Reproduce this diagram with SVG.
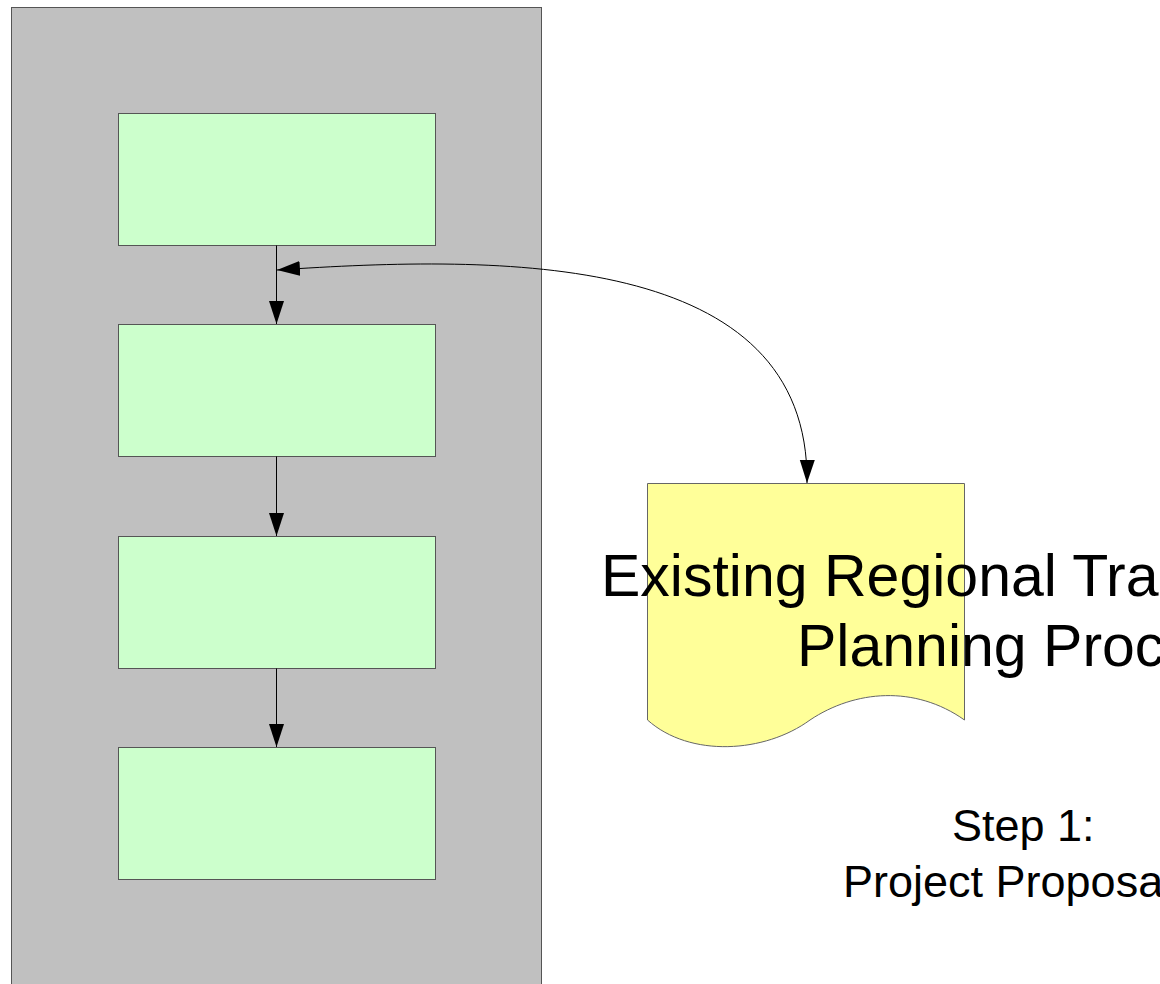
<svg xmlns="http://www.w3.org/2000/svg" width="1160" height="984" viewBox="0 0 1160 984">
  <defs>
    <style>
      .panel { fill: #c0c0c0; stroke: #555555; stroke-width: 1; }
      .step { fill: #ccffcc; stroke: #555555; stroke-width: 1; }
      .doc { fill: #ffff99; stroke: #666666; stroke-width: 1; }
      .link { fill: none; stroke: #000000; stroke-width: 1; }
      .label { font-family: "Liberation Sans", Arial, sans-serif; fill: #000000; }
    </style>
    <marker id="head" markerUnits="userSpaceOnUse" markerWidth="24" markerHeight="16" refX="23" refY="7.5" orient="auto-start-reverse" viewBox="0 0 24 16">
      <path d="M0,0 L23,7.5 L0,15 Z" fill="#000000"/>
    </marker>
  </defs>

  <!-- swimlane panel -->
  <g id="lane">
    <rect class="panel" x="11.5" y="7.5" width="530" height="1000"/>
  </g>

  <!-- process steps -->
  <g id="step-1">
    <rect class="step" x="118.5" y="113.5" width="317" height="132"/>
  </g>
  <g id="step-2">
    <rect class="step" x="118.5" y="324.5" width="317" height="132"/>
  </g>
  <g id="step-3">
    <rect class="step" x="118.5" y="536.5" width="317" height="132"/>
  </g>
  <g id="step-4">
    <rect class="step" x="118.5" y="747.5" width="317" height="132"/>
  </g>

  <!-- document node -->
  <g id="planning-doc">
    <path class="doc" d="M647.5,483.5 H964.5 V720 C915,685 855,690 810,720 C765,753 690,758 647.5,720 Z"/>
    <text class="label" font-size="59" x="601" y="596">Existing Regional Transportation</text>
    <text class="label" font-size="59" x="797" y="666">Planning Process</text>
  </g>

  <!-- caption -->
  <g id="caption">
    <text class="label" font-size="45" x="952" y="841">Step 1:</text>
    <text class="label" font-size="45" x="843" y="897">Project Proposal</text>
  </g>

  <!-- connectors -->
  <g id="connectors">
    <path class="link" d="M276.5,245.5 V324" marker-end="url(#head)"/>
    <path class="link" d="M276.5,456.5 V536" marker-end="url(#head)"/>
    <path class="link" d="M276.5,668.5 V747" marker-end="url(#head)"/>
    <path class="link" d="M277,270 C500,255 810,250 807,483" marker-start="url(#head)" marker-end="url(#head)"/>
  </g>
</svg>
